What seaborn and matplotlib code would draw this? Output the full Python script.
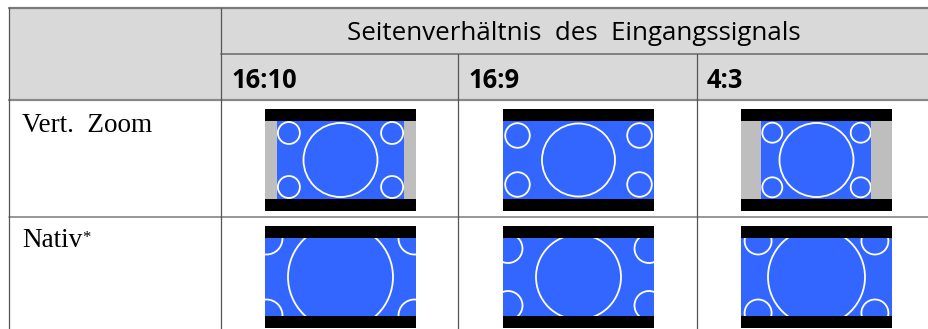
import matplotlib
matplotlib.use("Agg")
import matplotlib.pyplot as plt
from matplotlib.patches import Rectangle, Circle
import seaborn as sns

sns.set_theme(style="white")
plt.rcParams['font.family'] = ['Open Sans', 'DejaVu Sans']

# table content
header_title = "Seitenverhältnis  des  Eingangssignals"
input_ratios = ["16:10", "16:9", "4:3"]
modes = ["Vert.  Zoom", "Nativ"]
mode_marks = ["", "*"]

# picture per mode (rows) and input ratio (columns), in pixels of the diagram
picture_width = [[127, 151, 110], [151, 151, 151]]
big_radius = [[37, 36.5, 37], [52.5, 42.5, 48.5]]
small_dx = [[51.6, 61, 44.2], [74, 70.5, 58.4]]
small_dy = [[27, 24.5, 27.3], [38.5, 28.5, 36]]
small_radius = [[11, 12.3, 10], [16, 14.5, 13.5]]

# layout (figure pixels)
col_edges = [9, 221, 458, 697, 929]
row_edges = [8, 54, 100, 217, 329]
label_baseline = [31.5, 30]
frame_left = [265, 503, 741]
frame_w, frame_h, bar_h, frame_pad = 151, 102, 12, 9

header_grey = "#d9d9d9"
side_grey = "#bebebe"
blue = "#3366ff"
line_col = "#7a7a7a"

fig = plt.figure(figsize=(9.29, 3.29), dpi=100)
ax = fig.add_axes([0, 0, 1, 1])
ax.set_xlim(0, 929)
ax.set_ylim(329, 0)
ax.axis("off")

# header background
ax.add_patch(Rectangle((col_edges[0], row_edges[0]), col_edges[-1] - col_edges[0],
                       row_edges[2] - row_edges[0], color=header_grey, lw=0))

# grid lines
ax.plot([col_edges[0], col_edges[-1]], [row_edges[0], row_edges[0]], color=line_col, lw=1.6)
ax.plot([col_edges[1], col_edges[-1]], [row_edges[1], row_edges[1]], color=line_col, lw=1.3)
ax.plot([col_edges[0], col_edges[-1]], [row_edges[2], row_edges[2]], color="#888888", lw=1.6)
ax.plot([col_edges[0], col_edges[-1]], [row_edges[3], row_edges[3]], color=line_col, lw=1.1)
ax.plot([col_edges[0], col_edges[0]], [row_edges[0], row_edges[-1]], color="#555555", lw=0.9)
ax.plot([col_edges[1], col_edges[1]], [row_edges[0], row_edges[-1]], color="#555555", lw=0.9)
for x in col_edges[2:-1]:
    ax.plot([x, x], [row_edges[1], row_edges[-1]], color="#555555", lw=0.9)

# header texts
ax.text(574, 40, header_title, ha="center", va="baseline", fontsize=18.6, color="black")
for j, r in enumerate(input_ratios):
    ax.text(col_edges[j + 1] + 10, 88, r, ha="left", va="baseline",
            fontsize=18.4, fontweight="bold", color="black")

# row labels
for i, m in enumerate(modes):
    t = ax.text(22, row_edges[i + 2] + label_baseline[i], m, ha="left", va="baseline",
                fontsize=19.5, family="Liberation Serif", color="black")
    if mode_marks[i]:
        ax.annotate(mode_marks[i], xy=(1, 1), xycoords=t, xytext=(0, -1.5),
                    textcoords="offset points", ha="left", va="top",
                    fontsize=12, family="Liberation Serif", color="black")

# diagrams
for i in range(len(modes)):
    top = row_edges[i + 2] + frame_pad
    for j in range(len(input_ratios)):
        left = frame_left[j]
        cx, cy = left + frame_w / 2, top + frame_h / 2
        ax.add_patch(Rectangle((left, top), frame_w, frame_h, color="black", lw=0))
        ax.add_patch(Rectangle((left, top + bar_h), frame_w, frame_h - 2 * bar_h,
                               color=side_grey, lw=0))
        pw = picture_width[i][j]
        pic = Rectangle((cx - pw / 2, top + bar_h), pw, frame_h - 2 * bar_h,
                        color=blue, lw=0)
        ax.add_patch(pic)
        circles = [Circle((cx, cy), big_radius[i][j])]
        for sx in (-1, 1):
            for sy in (-1, 1):
                circles.append(Circle((cx + sx * small_dx[i][j], cy + sy * small_dy[i][j]),
                                      small_radius[i][j]))
        for c in circles:
            c.set_facecolor("none")
            c.set_edgecolor("white")
            c.set_linewidth(1.3)
            ax.add_patch(c)
            c.set_clip_path(pic)

fig.savefig("out.png", dpi=100, facecolor="white")
